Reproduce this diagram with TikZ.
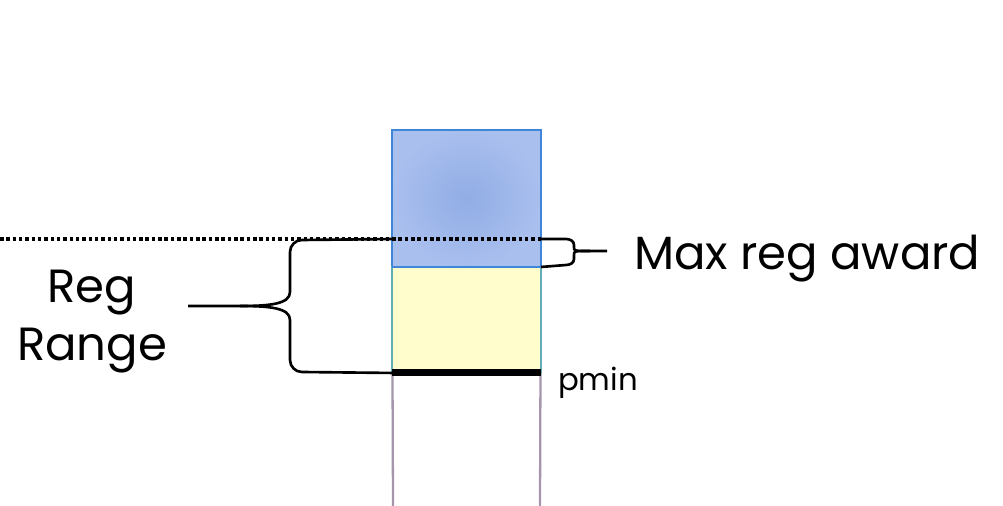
\documentclass[tikz,border=0pt]{standalone}
\usepackage{fontspec}
\setmainfont{Poppins}
\usetikzlibrary{positioning}

\definecolor{capedge}{HTML}{3F86D8}
\definecolor{capfill}{HTML}{A9BFEE}
\definecolor{capcore}{HTML}{91ADE5}
\definecolor{rangefill}{HTML}{FFFDCC}
\definecolor{rangeedge}{HTML}{62AEB6}
\definecolor{stemgray}{HTML}{A596AD}

\begin{document}
\begin{tikzpicture}[
  x=0.02cm, y=-0.02cm,
  every node/.style = {inner sep=0pt, outer sep=0pt},
  bigtext/.style = {font=\fontsize{26.5}{33}\selectfont, align=center},
  bracket/.style = {line width=1.5pt, black},
  dotline/.style = {line width=2pt, dash pattern=on 2pt off 1.6pt}]
  \useasboundingbox (0,0) rectangle (1003,506);

  % the two boxes of the bar
  \node[draw=capedge, line width=1.5pt, inner color=capcore, outer color=capfill,
        minimum width=2.98cm, minimum height=2.74cm, anchor=north west] (capbox) at (392,130) {};
  \node[draw=rangeedge, line width=1pt, fill=rangefill,
        minimum width=2.98cm, minimum height=2.12cm, anchor=north] (rangebox) at (capbox.south) {};
  \draw[capedge, line width=1.5pt] (capbox.south west) -- (capbox.south east);

  % open bottom and floor
  \coordinate (stemL) at (393,506);
  \coordinate (stemR) at (540,506);
  \draw[stemgray, line width=1.3pt] (rangebox.south west) ++(0.5,0) -- (stemL);
  \draw[stemgray, line width=1.3pt] (rangebox.south east) ++(-0.5,0) -- (stemR);
  \draw[line width=4pt] (rangebox.south west) -- (rangebox.south east);

  % max level
  \coordinate (dotL) at (0,239);
  \coordinate (dotR) at (capbox.east |- dotL);
  \draw[dotline] (dotL) -- (dotR);

  % labels
  \node[bigtext, anchor=west] (maxlabel) at (634,259) {Max reg award};
  \node[bigtext] (reglabel) at (92,322) {Reg\\Range};
  \node[font=\fontsize{17.5}{22}\selectfont, anchor=base west] (pminlabel) at (558,390) {pmin};

  % right brace
  \coordinate (maxtip) at (607,251);
  \draw[bracket] (dotR) -- (566,239) to[out=0,in=90] (574,245) -- (574,247)
    .. controls (574,251) .. (590,251) -- (maxtip);
  \draw[bracket] (590,251) .. controls (574,251) .. (574,255) -- (574,259)
    to[out=-90,in=0] (566,265) -- (capbox.south east);

  % left brace
  \coordinate (regtip) at (188,306);
  \draw[bracket] (capbox.west |- dotL) -- (302,240) to[out=180,in=90] (290,252) -- (290,292)
    .. controls (290,304) and (270,306) .. (240,306) -- (regtip);
  \draw[bracket] (240,306) .. controls (270,306) and (290,308) .. (290,320) -- (290,360)
    to[out=-90,in=180] (302,372) -- (rangebox.south west);
\end{tikzpicture}
\end{document}
